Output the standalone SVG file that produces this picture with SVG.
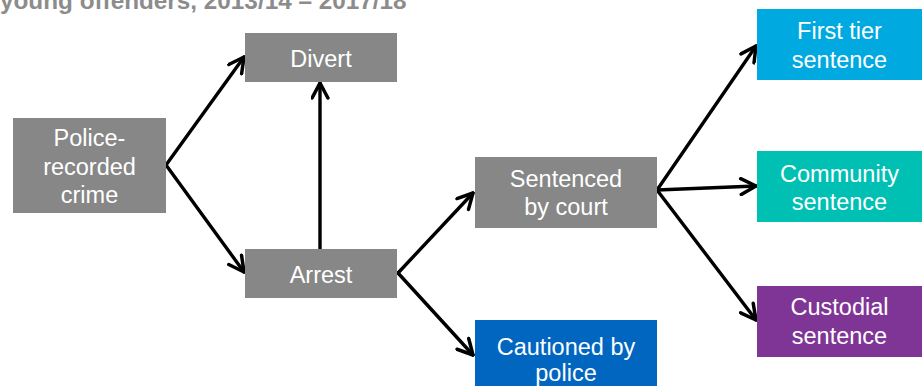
<svg xmlns="http://www.w3.org/2000/svg" width="922" height="386" viewBox="0 0 922 386">
<defs>
<style>
.box{stroke:none}
.grey{fill:#878787}
.t{font-family:"Liberation Sans",Arial,sans-serif;font-size:23.5px;fill:#ffffff;text-anchor:middle}
.c{fill:none;stroke:#000;stroke-width:3.4;stroke-linecap:round}
.title{font-family:"Liberation Sans",Arial,sans-serif;font-size:24.3px;font-weight:bold;fill:#8c8c8c}
</style>
<marker id="ah" viewBox="0 0 12 12" refX="11" refY="6" markerWidth="19" markerHeight="19" markerUnits="userSpaceOnUse" orient="auto">
<path d="M1.5,1 L11,6 L1.5,11" fill="none" stroke="#000" stroke-width="2.2" stroke-linecap="round" stroke-linejoin="round"/>
</marker>
</defs>
<rect width="922" height="386" fill="#fff"/>
<text class="title" x="0" y="9">young offenders, 2013/14 – 2017/18</text>
<g id="connectors">
<line class="c" x1="166" y1="165" x2="244" y2="57" marker-end="url(#ah)"/>
<line class="c" x1="166" y1="165" x2="244" y2="272" marker-end="url(#ah)"/>
<line class="c" x1="320" y1="249" x2="320" y2="83" marker-end="url(#ah)"/>
<line class="c" x1="398" y1="273" x2="473" y2="193" marker-end="url(#ah)"/>
<line class="c" x1="398" y1="273" x2="473" y2="355" marker-end="url(#ah)"/>
<line class="c" x1="657" y1="190" x2="756" y2="46" marker-end="url(#ah)"/>
<line class="c" x1="657" y1="190" x2="756" y2="186" marker-end="url(#ah)"/>
<line class="c" x1="657" y1="190" x2="756" y2="320" marker-end="url(#ah)"/>
</g>
<g id="police">
<rect class="box grey" x="13" y="118" width="153" height="95"/>
<text class="t" x="89.5" y="146">Police-</text>
<text class="t" x="89.5" y="175">recorded</text>
<text class="t" x="89.5" y="203">crime</text>
</g>
<g id="divert">
<rect class="box grey" x="245" y="33" width="152" height="49"/>
<text class="t" x="321" y="67">Divert</text>
</g>
<g id="arrest">
<rect class="box grey" x="245" y="249" width="152" height="49"/>
<text class="t" x="321" y="283">Arrest</text>
</g>
<g id="sentenced">
<rect class="box grey" x="475" y="157" width="182" height="71"/>
<text class="t" x="566" y="187">Sentenced</text>
<text class="t" x="566" y="215">by court</text>
</g>
<g id="cautioned">
<rect class="box" fill="#0066bf" x="475" y="320" width="182" height="70"/>
<text class="t" x="566" y="355">Cautioned by</text>
<text class="t" x="566" y="381">police</text>
</g>
<g id="firsttier">
<rect class="box" fill="#00a9e0" x="757" y="9" width="165" height="71"/>
<text class="t" x="839.5" y="39">First tier</text>
<text class="t" x="839.5" y="68">sentence</text>
</g>
<g id="community">
<rect class="box" fill="#00bfb3" x="757" y="151" width="165" height="71"/>
<text class="t" x="839.5" y="182">Community</text>
<text class="t" x="839.5" y="210">sentence</text>
</g>
<g id="custodial">
<rect class="box" fill="#7f3596" x="757" y="286" width="165" height="71"/>
<text class="t" x="839.5" y="315">Custodial</text>
<text class="t" x="839.5" y="344">sentence</text>
</g>
</svg>
